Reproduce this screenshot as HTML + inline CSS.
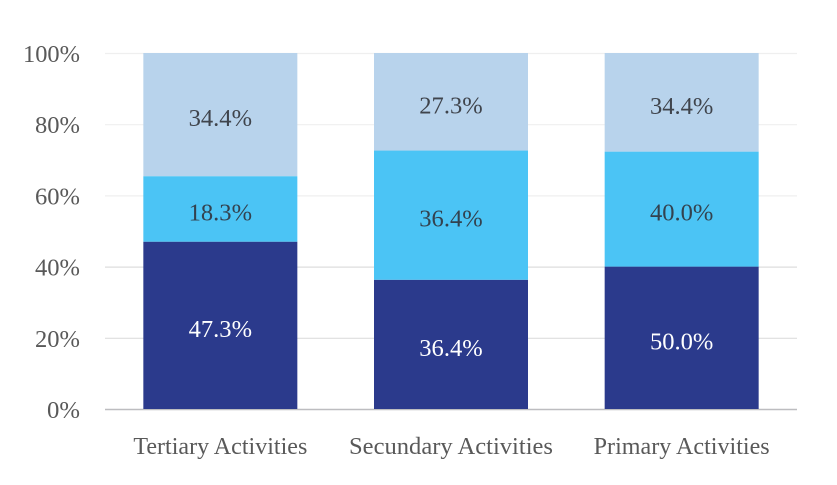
<!DOCTYPE html>
<html>
<head>
<meta charset="utf-8">
<style>
html,body{margin:0;padding:0;background:#fff;}
svg{display:block;}
text{font-family:"Liberation Serif",serif;}
</style>
</head>
<body>
<svg id="chart" width="837" height="485" viewBox="0 0 837 485" xmlns="http://www.w3.org/2000/svg"></svg>
<script>
const categories = ["Tertiary Activities", "Secundary Activities", "Primary Activities"];
const darkValues = [47.0, 36.3, 40.0];
const midValues = [18.4, 36.3, 32.3];
const lightValues = [34.6, 27.4, 27.7];
const darkLabels = ["47.3%", "36.4%", "50.0%"];
const midLabels = ["18.3%", "36.4%", "40.0%"];
const lightLabels = ["34.4%", "27.3%", "34.4%"];
const ticks = [0, 20, 40, 60, 80, 100];

const NS = "http://www.w3.org/2000/svg";
const svg = document.getElementById("chart");
const plotLeft = 105, plotRight = 797, plotTop = 53, plotBottom = 409;
const bandW = (plotRight - plotLeft) / categories.length;
const barW = 154;
function y(v){ return plotBottom - (v / 100) * (plotBottom - plotTop); }
function x(i){ return plotLeft + bandW * (i + 0.5); }
function make(tag, attrs){
  const el = document.createElementNS(NS, tag);
  for (const k in attrs) el.setAttribute(k, attrs[k]);
  svg.appendChild(el);
  return el;
}
function textWidth(s, perChar, perPct){
  let w = 0;
  for (const c of s) w += c === "%" ? perPct : c === "." ? perChar * 0.42 : perChar;
  return w;
}

ticks.forEach(function(t){
  const line = make("line", {x1: plotLeft, x2: plotRight, y1: y(t) + 0.5, y2: y(t) + 0.5,
    stroke: t === 0 ? "#bdbdc0" : (t >= 60 ? "#efefef" : "#dedede"), "stroke-width": t === 0 ? 1.5 : 1.2});
  
  
  const s = t + "%";
  const lab = make("text", {x: 80, y: y(t) + 9, "text-anchor": "end", "font-size": 24, fill: "#595959",
    textLength: textWidth(s, 12, 21), lengthAdjust: "spacingAndGlyphs"});
  lab.textContent = s;
  
  
});

const series = [
  {vals: darkValues, labs: darkLabels, color: "#2b3a8c", text: "#ffffff"},
  {vals: midValues, labs: midLabels, color: "#4bc4f5", text: "#33424f"},
  {vals: lightValues, labs: lightLabels, color: "#b8d3ec", text: "#3f444c"}
];
const catWidths = [174, 204, 176];

categories.forEach(function(c, i){
  let base = 0;
  series.forEach(function(s){
    const v = s.vals[i];
    const top = y(base + v), bottom = y(base);
    const r = make("rect", {x: x(i) - barW / 2, y: top, width: barW, height: bottom - top, fill: s.color});
    
    
    const t = make("text", {x: x(i), y: (top + bottom) / 2 + 11.5, "text-anchor": "middle", "font-size": 24, fill: s.text,
      textLength: textWidth(s.labs[i], 12.4, 21), lengthAdjust: "spacingAndGlyphs"});
    t.textContent = s.labs[i];
    
    
    base += v;
  });
  const cat = make("text", {x: x(i), y: 454, "text-anchor": "middle", "font-size": 24, fill: "#595959",
    textLength: catWidths[i], lengthAdjust: "spacingAndGlyphs"});
  cat.textContent = c;
  
  
});
</script>
</body>
</html>
